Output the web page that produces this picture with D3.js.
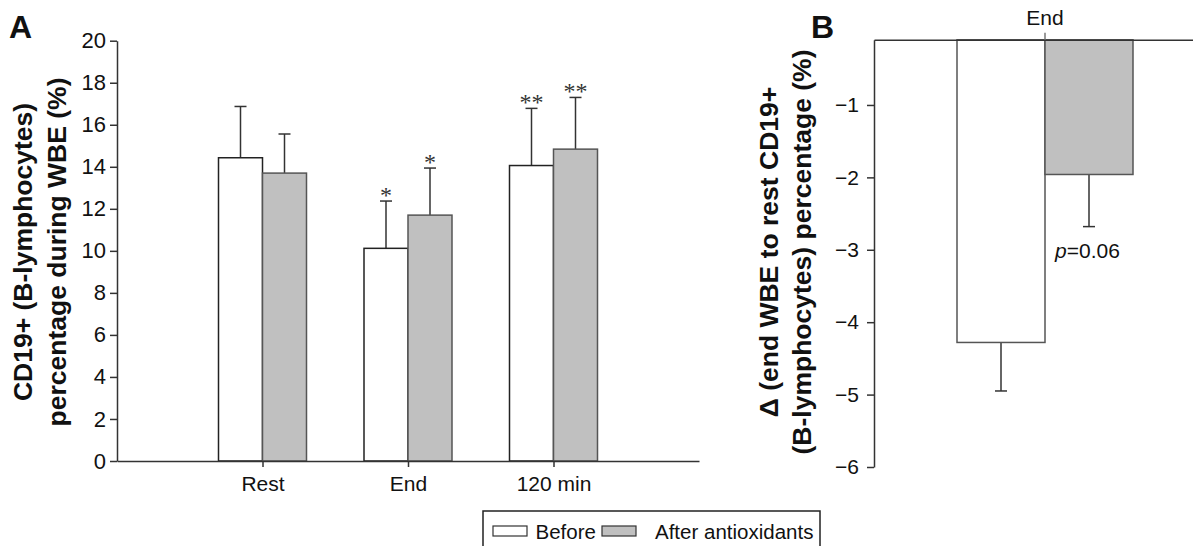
<!DOCTYPE html>
<html>
<head>
<meta charset="utf-8">
<script src="https://cdn.jsdelivr.net/npm/d3@7"></script>
<style>
  body { margin: 0; background: #fff; }
  svg { display: block; font-family: Arial, "Liberation Sans", sans-serif; }
</style>
</head>
<body>
<div id="chart"></div>
<script>
// panel A data
const timepoints = ['', 'Rest', 'End', '120 min'];
const groups = ['Before', 'After antioxidants'];
const beforeMean = [14.43, 10.12, 14.06];
const beforeErr = [2.44, 2.25, 2.72];
const afterMean = [13.70, 11.70, 14.84];
const afterErr = [1.86, 2.24, 2.46];
const beforeStars = ['', '*', '**'];
const afterStars = ['', '*', '**'];
const yTicksA = [0, 2, 4, 6, 8, 10, 12, 14, 16, 18, 20];

// panel B data
const deltaCats = ['End'];
const deltaBefore = [-4.28];
const deltaBeforeErr = [0.67];
const deltaAfter = [-1.96];
const deltaAfterErr = [0.72];
const yTicksB = [-1, -2, -3, -4, -5, -6];
const pLabel = '0.06';

const W = 1193, H = 546;
const fill = { Before: '#ffffff', 'After antioxidants': '#c0c0c0' };
const lineCol = '#333';
const fontSans = 'Arial, "Liberation Sans", sans-serif';

const svg = d3.select('#chart').append('svg')
  .attr('width', W)
  .attr('height', H);

// ---------- Panel A ----------
const ax = { left: 117, right: 699, top: 40.7, bottom: 461 };

const xA = d3.scalePoint()
  .domain(timepoints.concat(['_end']))
  .range([ax.left, ax.right]);

const yA = d3.scaleLinear()
  .domain([0, 20])
  .range([ax.bottom, ax.top]);

const barW = 44;

const gA = svg.append('g');

// y axis
const yAxisA = gA.append('g')
  .attr('transform', `translate(${ax.left},0)`)
  .call(d3.axisLeft(yA).tickValues(yTicksA).tickSize(7).tickPadding(4).tickSizeOuter(0));
yAxisA.select('.domain').attr('stroke', lineCol).attr('stroke-width', 1.5);
yAxisA.selectAll('.tick line').attr('stroke', lineCol).attr('stroke-width', 1.5);
yAxisA.selectAll('.tick text').attr('font-size', 22).attr('fill', '#111')
  .attr('font-family', fontSans);

const rowsA = timepoints.slice(1).map((t, i) => ({
  t,
  vals: [
    { g: groups[0], v: beforeMean[i], e: beforeErr[i], s: beforeStars[i], off: -1 },
    { g: groups[1], v: afterMean[i], e: afterErr[i], s: afterStars[i], off: 0 },
  ],
}));

const barsA = rowsA.flatMap(r => r.vals.map(d => Object.assign({ t: r.t }, d)));

// error bars (upper only)
gA.selectAll('.errA')
  .data(barsA)
  .enter()
  .append('g')
  .each(function (d) {
    const cx = xA(d.t) + d.off * barW + barW / 2;
    const g = d3.select(this);
    g.append('line')
      .attr('x1', cx).attr('x2', cx)
      .attr('y1', yA(d.v)).attr('y2', yA(d.v + d.e))
      .attr('stroke', lineCol).attr('stroke-width', 1.5);
    g.append('line')
      .attr('x1', cx - 6).attr('x2', cx + 6)
      .attr('y1', yA(d.v + d.e)).attr('y2', yA(d.v + d.e))
      .attr('stroke', lineCol).attr('stroke-width', 1.5);
    if (d.s) {
      g.append('text')
        .attr('x', cx)
        .attr('y', yA(d.v + d.e) + 2)
        .attr('text-anchor', 'middle')
        .attr('font-family', '"Liberation Serif", "DejaVu Serif", serif')
        .attr('font-size', 24)
        .attr('fill', '#333')
        .text(d.s);
    }
  });

gA.selectAll('.barA')
  .data(barsA)
  .enter()
  .append('rect')
  .attr('x', d => xA(d.t) + d.off * barW)
  .attr('width', barW)
  .attr('y', d => yA(d.v))
  .attr('height', d => yA(0) - yA(d.v))
  .attr('fill', d => fill[d.g])
  .attr('stroke', d => d.g === 'Before' ? '#222' : '#555')
  .attr('stroke-width', 1.5);

// x axis
const xAxisA = gA.append('g')
  .attr('transform', `translate(0,${ax.bottom})`)
  .call(d3.axisBottom(xA).tickValues(timepoints.slice(1)).tickSize(6).tickPadding(9).tickSizeOuter(0));
xAxisA.select('.domain').attr('stroke', lineCol).attr('stroke-width', 1.5);
xAxisA.selectAll('.tick line').attr('stroke', lineCol).attr('stroke-width', 1.5);
xAxisA.selectAll('.tick text').attr('font-size', 21).attr('fill', '#111')
  .attr('font-family', fontSans);

// y title A
const titleA = gA.append('text')
  .attr('transform', 'translate(32,252) rotate(-90)')
  .attr('text-anchor', 'middle')
  .attr('font-weight', 'bold')
  .attr('font-size', 26.5)
  .attr('fill', '#111');
titleA.append('tspan').attr('x', 0).attr('dy', 0).text('CD19+ (B-lymphocytes)');
titleA.append('tspan').attr('x', 0).attr('dy', 34).text('percentage during WBE (%)');

gA.append('text')
  .attr('x', 9).attr('y', 38)
  .attr('font-weight', 'bold').attr('font-size', 32).attr('fill', '#111')
  .text('A');

// ---------- Panel B ----------
const bx = { left: 874, right: 1216, top: 39.8, bottom: 467 };

const xB = d3.scaleBand()
  .domain(deltaCats)
  .range([bx.left, bx.right])
  .paddingInner(0)
  .paddingOuter(0);

const yB = d3.scaleLinear()
  .domain([-0.1, -6])
  .range([bx.top, bx.bottom]);

const barWB = 88;
const gB = svg.append('g');

const barsB = deltaCats.flatMap((c, i) => [
  { c, g: groups[0], v: deltaBefore[i], e: deltaBeforeErr[i], off: -1 },
  { c, g: groups[1], v: deltaAfter[i], e: deltaAfterErr[i], off: 0 },
]);

gB.selectAll('.errB')
  .data(barsB)
  .enter()
  .append('g')
  .each(function (d) {
    const cx = xB(d.c) + xB.bandwidth() / 2 + d.off * barWB + barWB / 2;
    const g = d3.select(this);
    g.append('line')
      .attr('x1', cx).attr('x2', cx)
      .attr('y1', yB(d.v)).attr('y2', yB(d.v - d.e))
      .attr('stroke', lineCol).attr('stroke-width', 1.5);
    g.append('line')
      .attr('x1', cx - 6).attr('x2', cx + 6)
      .attr('y1', yB(d.v - d.e)).attr('y2', yB(d.v - d.e))
      .attr('stroke', lineCol).attr('stroke-width', 1.5);
  });

gB.selectAll('.barB')
  .data(barsB)
  .enter()
  .append('rect')
  .attr('x', d => xB(d.c) + xB.bandwidth() / 2 + d.off * barWB)
  .attr('width', barWB)
  .attr('y', yB(-0.1))
  .attr('height', d => yB(d.v) - yB(-0.1))
  .attr('fill', d => fill[d.g])
  .attr('stroke', '#555')
  .attr('stroke-width', 1.5);

// p value under the after bar
const pBar = barsB[1];
const pText = gB.append('text')
  .attr('x', xB(pBar.c) + xB.bandwidth() / 2 + 10)
  .attr('y', yB(pBar.v - pBar.e) + 31)
  .attr('font-size', 21)
  .attr('fill', '#111');
pText.append('tspan').attr('font-style', 'italic').text('p');
pText.append('tspan').text('=' + pLabel);

const yAxisB = gB.append('g')
  .attr('transform', `translate(${bx.left},0)`)
  .call(d3.axisLeft(yB).tickValues(yTicksB).tickSize(7).tickPadding(8).tickSizeOuter(0)
    .tickFormat(d => '\u2212' + Math.abs(d)));
yAxisB.select('.domain').attr('stroke', lineCol).attr('stroke-width', 1.5);
yAxisB.selectAll('.tick line').attr('stroke', lineCol).attr('stroke-width', 1.5);
yAxisB.selectAll('.tick text').attr('font-size', 21).attr('fill', '#111')
  .attr('font-family', fontSans);

const xAxisB = gB.append('g')
  .attr('transform', `translate(0,${bx.top})`)
  .call(d3.axisTop(xB).tickSize(7).tickPadding(8).tickSizeOuter(0));
xAxisB.select('.domain').attr('stroke', lineCol).attr('stroke-width', 1.5);
xAxisB.selectAll('.tick line').attr('stroke', '#777').attr('stroke-width', 1.5);
xAxisB.selectAll('.tick text').attr('font-size', 21).attr('fill', '#111')
  .attr('font-family', fontSans);

const titleB = gB.append('text')
  .attr('transform', 'translate(778,252) rotate(-90)')
  .attr('text-anchor', 'middle')
  .attr('font-weight', 'bold')
  .attr('font-size', 26.5)
  .attr('fill', '#111');
titleB.append('tspan').attr('x', 0).attr('dy', 0).text('\u0394 (end WBE to rest CD19+');
titleB.append('tspan').attr('x', 0).attr('dy', 33).text('(B-lymphocytes) percentage (%)');

gB.append('text')
  .attr('x', 811).attr('y', 38)
  .attr('font-weight', 'bold').attr('font-size', 32).attr('fill', '#111')
  .text('B');

// ---------- legend ----------
const leg = svg.append('g');
leg.append('rect')
  .attr('x', 483).attr('y', 511)
  .attr('width', 337).attr('height', 45)
  .attr('fill', '#fff').attr('stroke', '#222').attr('stroke-width', 1.5);

const legX = [493, 602];
const legTextX = [535.5, 655];
groups.forEach((g, i) => {
  leg.append('rect')
    .attr('x', legX[i]).attr('y', 526)
    .attr('width', 34).attr('height', 10)
    .attr('fill', fill[g]).attr('stroke', '#333').attr('stroke-width', 1.2);
  leg.append('text')
    .attr('x', legTextX[i]).attr('y', 538.5)
    .attr('font-size', 20.5).attr('fill', '#111')
    .text(g);
});
</script>
</body>
</html>
